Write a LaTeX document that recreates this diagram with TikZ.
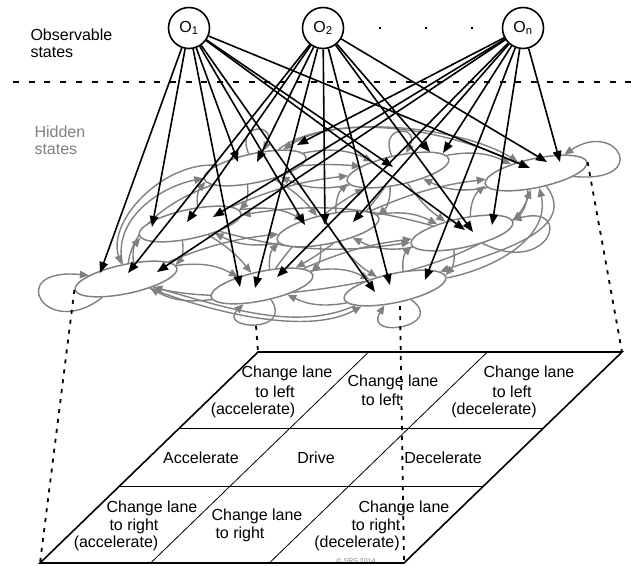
\documentclass[tikz,border=0pt]{standalone}
\usepackage{fontspec}
\setmainfont{Liberation Sans}
\usetikzlibrary{arrows.meta,shapes.geometric,backgrounds,calc}
\definecolor{hidgray}{RGB}{128,128,128}

\begin{document}
\begin{tikzpicture}[x=1pt, y=-1pt, >={Triangle[length=11pt,width=8.5pt]},
    obsnode/.style={draw, circle, line width=1.6pt, minimum size=41pt, inner sep=0pt, fill=white, font=\fontsize{16}{16}\selectfont},
    hidnode/.style={draw=hidgray, ellipse, line width=1.5pt, fill=white, minimum width=104pt, minimum height=29pt, inner sep=0pt, rotate=12},
    emit/.style={->, line width=1.6pt},
    trans/.style={-{Triangle[length=9pt,width=7.5pt]}, draw=hidgray, line width=1.4pt},
    drop/.style={line width=1.8pt, dash pattern=on 4pt off 6pt},
    sidetext/.style={font=\fontsize{16}{17}\selectfont, align=left, anchor=west},
    celltext/.style={font=\fontsize{16}{19}\selectfont}]
    \useasboundingbox (0,0) rectangle (631,565);

    % observable layer
    \node[sidetext] (obstext) at (27,43) {Observable\\states};
    \node[obsnode] (O1) at (189,28) {O\textsubscript{1}};
    \node[obsnode] (O2) at (323,28) {O\textsubscript{2}};
    \node[obsnode] (On) at (523,28) {O\textsubscript{n}};
    \foreach \x in {380,426,472}
        \fill (\x-1,27) rectangle +(2.2,2.2);
    \draw[line width=2pt, dash pattern=on 6pt off 9.7pt] (13,82) -- (631,82);

    % hidden layer
    \node[sidetext, text=hidgray] (hidtext) at (31,140) {Hidden\\states};
    \node[hidnode] (hBL) at (255,168) {};
    \node[hidnode] (hBM) at (398,170) {};
    \node[hidnode] (hBR) at (536,173) {};
    \node[hidnode] (hML) at (190,224) {};
    \node[hidnode] (hMM) at (328,229) {};
    \node[hidnode] (hMR) at (462,233) {};
    \node[hidnode] (hFL) at (126,279) {};
    \node[hidnode] (hFM) at (262,286) {};
    \node[hidnode] (hFR) at (395,288) {};

    \begin{pgfonlayer}{background}
    \foreach \a/\b/\bend in {FL/FM/18, FM/FL/18, FM/FR/18, FR/FM/18,
        ML/MM/18, MM/ML/18, MM/MR/18, MR/MM/18,
        BL/BM/18, BM/BL/18, BM/BR/18, BR/BM/18,
        FL/ML/25, ML/FL/25, ML/BL/25, BL/ML/25,
        FM/MM/25, MM/FM/25, MM/BM/25, BM/MM/25,
        FR/MR/25, MR/FR/25, MR/BR/25, BR/MR/25,
        FL/MM/8, MM/BR/8, FM/MR/8, ML/BM/8,
        ML/FM/10, MM/FR/-10, BL/MM/10, BM/MR/-10,
        ML/MR/-12, MR/ML/-12, FM/BM/12, BM/FM/12}
        \draw[trans] (h\a) to[bend left=\bend] (h\b);
    % outer transitions
    \draw[trans] (hFL) to[out=100, in=185] (hBL);
    \draw[trans] (hBL) to[out=170, in=105, looseness=0.9] (hFL);
    \draw[trans] (hFL) to[out=80, in=170, looseness=0.8] (hBM);
    \draw[trans] (hBL) to[out=35, in=145, looseness=0.7] (hBR);
    \draw[trans] (hBR) to[out=150, in=30, looseness=0.8] (hBL);
    \draw[trans] (hFR) to[out=5, in=-80] (hBR);
    \draw[trans] (hBR) to[out=-55, in=15] (hFR);
    \draw[trans] (hFL) to[out=-25, in=-155, looseness=0.8] (hFR);
    \draw[trans] (hFR) to[out=-160, in=-20, looseness=0.9] (hFL);
    \draw[trans] (hFL) to[out=-20, in=-110, looseness=0.6] (hBR);
    \end{pgfonlayer}
    % self transitions
    \draw[trans] (hFL) to[out=215, in=170, looseness=6] (hFL);
    \draw[trans] (hFM) to[out=300, in=220, looseness=4] (hFM);
    \draw[trans] (hFR) to[out=320, in=235, looseness=4] (hFR);
    \draw[trans] (hMR) to[out=330, in=10, looseness=6] (hMR);
    \draw[trans] (hBR) to[out=-10, in=30, looseness=6] (hBR);
    \draw[trans] (hBL) to[out=110, in=60, looseness=6] (hBL);
    \draw[trans] (hBM) to[out=110, in=60, looseness=6] (hBM);

    % emissions
    \foreach \h/\ax/\ay/\bx/\by/\cx/\cy in {FL/100/273/128/273/157/272,
        ML/152/227/187/222/213/217, BL/238/162/257/162/297/145,
        FM/240/287/255/288/277/277, MM/305/225/325/225/353/222,
        BM/393/167/430/152/443/153, FR/375/292/390/285/425/280,
        MR/465/230/473/232/492/225, BR/530/168/547/162/560/162} {
        \coordinate (t\h a) at (\ax,\ay);
        \coordinate (t\h b) at (\bx,\by);
        \coordinate (t\h c) at (\cx,\cy);
        \draw[emit] (O1) -- (t\h a);
        \draw[emit] (O2) -- (t\h b);
        \draw[emit] (On) -- (t\h c);
    }

    % action grid
    \coordinate (gTL) at (258,352);
    \coordinate (gTR) at (622,352);
    \coordinate (gBR) at (404,563);
    \coordinate (gBL) at (40,563);
    \node[celltext] (c11a) at (287,373) {Change lane};
    \node[celltext] (c11b) at (275,392) {to left};
    \node[celltext] (c11c) at (253,410) {(accelerate)};
    \node[celltext] (c12a) at (393,382) {Change lane};
    \node[celltext] (c12b) at (381,400) {to left};
    \node[celltext] (c13a) at (529,373) {Change lane};
    \node[celltext] (c13b) at (512,392) {to left};
    \node[celltext] (c13c) at (494,410) {(decelerate)};
    \node[celltext] (c21) at (201,458) {Accelerate};
    \node[celltext] (c22) at (316,458) {Drive};
    \node[celltext] (c23) at (443,458) {Decelerate};
    \node[celltext] (c31a) at (152,508) {Change lane};
    \node[celltext] (c31b) at (134,526) {to right};
    \node[celltext] (c31c) at (116,543) {(accelerate)};
    \node[celltext] (c32a) at (257,516) {Change lane};
    \node[celltext] (c32b) at (240,534) {to right};
    \node[celltext] (c33a) at (404,508) {Change lane};
    \node[celltext] (c33b) at (376,526) {to right};
    \node[celltext] (c33c) at (357,543) {(decelerate)};
    \node[font=\fontsize{7}{7}\selectfont, text=hidgray] (copy) at (356,561) {\textcopyright{} SRS 2014};
    \draw[line width=1.6pt] (gTL) -- (gTR) -- (gBR) -- (gBL) -- cycle;
    \draw[line width=0.8pt] ($(gTL)!0.36!(gBL)$) -- ($(gTR)!0.36!(gBR)$);
    \draw[line width=0.8pt] ($(gTL)!0.635!(gBL)$) -- ($(gTR)!0.635!(gBR)$);
    \draw[line width=0.8pt] ($(gTL)!0.304!(gTR)$) -- ($(gBL)!0.304!(gBR)$);
    \draw[line width=0.8pt] ($(gTL)!0.63!(gTR)$) -- ($(gBL)!0.63!(gBR)$);

    % projections
    \coordinate (fmdrop) at (256,326);
    \coordinate (frdrop) at (400,306);
    \draw[drop] (hFL.west) -- (gBL);
    \draw[drop] (fmdrop) -- (gTL);
    \draw[drop] (frdrop) -- (gBR);
    \draw[drop] (hBR.east) -- (gTR);
\end{tikzpicture}
\end{document}
